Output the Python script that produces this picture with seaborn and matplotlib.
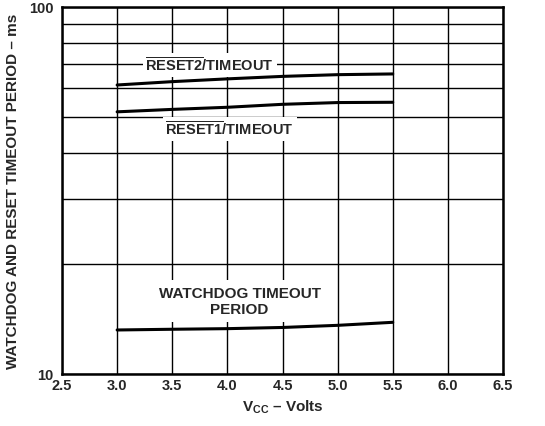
import matplotlib
matplotlib.use('Agg')
import matplotlib.pyplot as plt
import seaborn as sns
import pandas as pd
from matplotlib.ticker import FixedLocator, NullFormatter

# データ
vcc = [3.0, 3.5, 4.0, 4.5, 5.0, 5.5]
reset2_ms = [61.3, 62.6, 63.7, 64.7, 65.4, 65.7]
reset1_ms = [51.8, 52.6, 53.3, 54.3, 54.9, 55.0]
watchdog_ms = [13.18, 13.24, 13.29, 13.39, 13.57, 13.83]

x_ticks = [2.5, 3.0, 3.5, 4.0, 4.5, 5.0, 5.5, 6.0, 6.5]
y_grid = [20, 30, 40, 50, 60, 70, 80, 90]

sns.set_style('white')
plt.rcParams['font.family'] = ['Liberation Sans', 'DejaVu Sans']
plt.rcParams['font.weight'] = 'bold'
plt.rcParams['mathtext.fontset'] = 'custom'
plt.rcParams['mathtext.rm'] = 'Liberation Sans:bold'
plt.rcParams['mathtext.bf'] = 'Liberation Sans:bold'
plt.rcParams['mathtext.it'] = 'Liberation Sans:bold'

df = pd.concat([
    pd.DataFrame({'vcc': vcc, 'ms': reset2_ms, 'series': 'reset2'}),
    pd.DataFrame({'vcc': vcc, 'ms': reset1_ms, 'series': 'reset1'}),
    pd.DataFrame({'vcc': vcc, 'ms': watchdog_ms, 'series': 'watchdog'}),
])

fig = plt.figure(figsize=(5.45, 4.27), dpi=100)
ax = fig.add_axes([0.1138, 0.1218, 0.8091, 0.8595])

sns.lineplot(data=df, x='vcc', y='ms', units='series', estimator=None,
             color='black', linewidth=2.2, ax=ax, zorder=4)

ax.set_yscale('log')
ax.set_xlim(2.5, 6.5)
ax.set_ylim(10, 100)
ax.set_xticks(x_ticks)
ax.set_xticklabels([f'{t:.1f}' for t in x_ticks])
ax.set_yticks([10, 100])
ax.set_yticklabels(['10', '100'])
ax.yaxis.set_minor_locator(FixedLocator(y_grid))
ax.yaxis.set_minor_formatter(NullFormatter())
ax.tick_params(axis='both', which='both', length=0, labelsize=10.5)
ax.tick_params(axis='x', pad=3)
ax.tick_params(axis='y', pad=6)

ax.grid(True, which='both', color='black', linewidth=1.0)
for s in ax.spines.values():
    s.set_linewidth(1.8)
    s.set_color('black')
    s.set_zorder(5)

ax.set_xlabel(r'V$_{\rm CC}$ – Volts', fontsize=11, fontweight='bold', labelpad=4)
ax.set_ylabel('WATCHDOG AND RESET TIMEOUT PERIOD – ms', fontsize=11, fontweight='bold')
ax.yaxis.set_label_coords(-0.095, 0.5)

box = dict(facecolor='white', edgecolor='none', pad=2)
ax.text(3.84, 69.5, r'$\overline{\rm RESET2}{\rm /TIMEOUT}$', fontsize=10.5,
        ha='center', va='center', bbox=box, zorder=3)
ax.text(4.02, 46.5, r'$\overline{\rm RESET1}{\rm /TIMEOUT}$', fontsize=10.5,
        ha='center', va='center', bbox=box, zorder=3)
ax.text(4.11, 15.8, 'WATCHDOG TIMEOUT\nPERIOD', fontsize=11, fontweight='bold',
        ha='center', va='center', linespacing=1.2,
        bbox=dict(facecolor='white', edgecolor='none', pad=4), zorder=3)

fig.savefig('out.png', dpi=100)
